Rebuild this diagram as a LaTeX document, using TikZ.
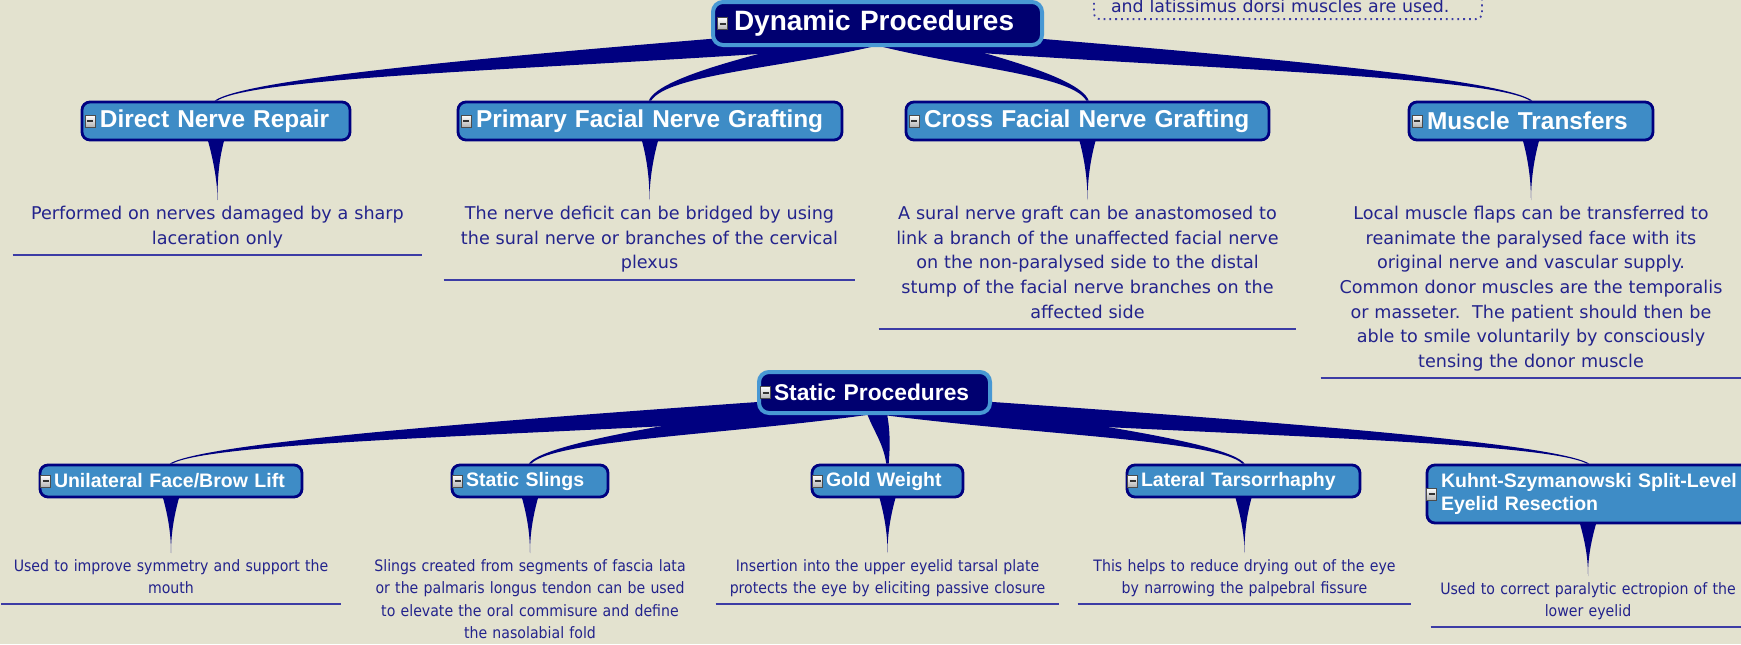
\documentclass[tikz,border=0pt]{standalone}
\usepackage{fontspec}
\setmainfont{DejaVu Sans}
\newfontfamily\titlefont{Liberation Sans}
\newfontfamily\notefont{DejaVu Sans}
\newfontfamily\narrowfont{DejaVu Sans}[FakeStretch=0.9]
\usetikzlibrary{calc}
\pgfdeclarelayer{bg}
\pgfsetlayers{bg,main}

\definecolor{paper}{RGB}{227,226,207}
\definecolor{navy}{RGB}{0,0,128}
\definecolor{rootfill}{RGB}{0,0,112}
\definecolor{rootedge}{RGB}{72,152,212}
\definecolor{boxblue}{RGB}{62,140,198}
\definecolor{desctext}{RGB}{35,35,140}
\definecolor{ruleblue}{RGB}{60,60,165}

\tikzset{
    rootbox/.style={draw=rootedge, fill=rootfill, line width=2pt, rounded corners=5pt,
        text=white, inner sep=0pt, align=left},
    dynroot/.style={rootbox, minimum height=21.5pt,
        font=\titlefont\bfseries\fontsize{14pt}{16pt}\selectfont,
        execute at begin node={\leftskip=10.5pt}},
    statroot/.style={rootbox, minimum height=20.5pt,
        font=\titlefont\bfseries\fontsize{11.4pt}{13pt}\selectfont,
        execute at begin node={\leftskip=7.5pt}},
    childbox/.style={draw=navy, fill=boxblue, line width=1.4pt, rounded corners=4pt,
        text=white, inner sep=0pt, align=left},
    dynbox/.style={childbox, minimum height=19pt,
        font=\titlefont\bfseries\fontsize{12.2pt}{14pt}\selectfont,
        execute at begin node={\leftskip=9pt}},
    statbox/.style={childbox, minimum height=16pt,
        font=\titlefont\bfseries\fontsize{9.75pt}{11.5pt}\selectfont,
        execute at begin node={\leftskip=7pt}},
    dyndesc/.style={anchor=north, align=center, text=desctext, inner xsep=0pt, inner ysep=3pt,
        font=\notefont\fontsize{8.8pt}{12.3pt}\selectfont,
        execute at end node={\vrule width 0pt depth 2.2pt height 0pt}},
    statdesc/.style={anchor=north, align=center, text=desctext, inner xsep=0pt, inner ysep=3pt,
        font=\narrowfont\fontsize{7.85pt}{11.25pt}\selectfont,
        execute at end node={\vrule width 0pt depth 2pt height 0pt}},
    notebox/.style={draw=ruleblue, dotted, line width=0.9pt, rounded corners=3pt, align=left,
        text=desctext, inner xsep=8.5pt, inner ysep=3pt, text width=177pt,
        font=\notefont\fontsize{8.7pt}{12pt}\selectfont},
    branch/.style={fill=navy},
    descrule/.style={draw=ruleblue, line width=1pt},
    icon/.style={draw=black!70, line width=0.4pt, top color=white, bottom color=black!30},
    iconbar/.style={draw=black!80, line width=1pt}
}

% tapered curved branch from a parent box to a child box
\newcommand{\branch}[2]{%
    \path let \p1=($(#1.center)!0.5!(#1.south)$), \p2=(#2.north) in
        coordinate (bs) at (\p1)
        coordinate (bc) at ({\x1+0.42*(\x2-\x1)},{\y1+0.35*(\y2-\y1)})
        coordinate (bd) at ({\x2+0.06*(\x1-\x2)},{\y2-0.4*(\y2-\y1)})
        coordinate (bt) at (\p2);
    \path coordinate (bo) at ($(bs)!5pt!90:(bc)$);
    \fill[branch] (bo) .. controls ($(bc)+(bo)-(bs)$) and ([xshift=2pt]bd) .. ([xshift=0.6pt]bt)
        -- ([xshift=-0.6pt]bt) .. controls ([xshift=-2pt]bd) and ($(bc)-(bo)+(bs)$) .. ($2*(bs)-(bo)$) -- cycle;
}
% pointed callout tail from a box down to its note
\newcommand{\tail}[2]{%
    \fill[branch] ([xshift=-4.5pt,yshift=2pt]#1.south)
        .. controls ([xshift=-1pt,yshift=-10pt]#1.south) and ([yshift=8pt]#2.north) .. (#2.north)
        .. controls ([yshift=8pt]#2.north) and ([xshift=1pt,yshift=-10pt]#1.south) .. ([xshift=4.5pt,yshift=2pt]#1.south)
        -- cycle;
}

\begin{document}
\begin{tikzpicture}[x=0.5pt,y=-0.5pt]
    \useasboundingbox (0,0) rectangle (1741,644);
    \begin{pgfonlayer}{bg}
        \fill[paper] (0,0) rectangle (1741,644);
    \end{pgfonlayer}
    \clip (0,0) rectangle (1741,644);

    % note box cut off at the top
    \node[notebox, anchor=south] (note) at (1288,20) {and latissimus dorsi muscles are used.};

    % the two main topics
    \node[dynroot, text width=164.5pt] (dyn) at (877.5,23.5) {Dynamic Procedures};
    \node[statroot, text width=115.5pt] (stat) at (874.5,392.5) {Static Procedures};

    % subtopics
    \foreach \i/\x/\w/\t in {1/216/134pt/Direct Nerve Repair,
                             2/650/192pt/Primary Facial Nerve Grafting,
                             3/1087.5/181.5pt/Cross Facial Nerve Grafting,
                             4/1531/122pt/Muscle Transfers} {
        \node[dynbox, text width=\w] (d_\i) at (\x,121) {\t};
    }
    \foreach \i/\x/\w/\t in {1/171/131pt/{Unilateral Face/Brow Lift},
                             2/530/78pt/Static Slings,
                             3/887.5/75.5pt/Gold Weight,
                             4/1243.5/116.5pt/Lateral Tarsorrhaphy} {
        \node[statbox, text width=\w] (s_\i) at (\x,481) {\t};
    }
    \node[statbox, text width=161pt, minimum height=29pt] (s_5) at (1588,494) {Kuhnt-Szymanowski Split-Level\\Eyelid Resection};

    % notes
    \node[dyndesc, text width=204.5pt] (dn_1) at (217.5,200) {Performed on nerves damaged by a sharp\\laceration only};
    \node[dyndesc, text width=205.5pt] (dn_2) at (649.5,200) {The nerve deficit can be bridged by using\\the sural nerve or branches of the cervical\\plexus};
    \node[dyndesc, text width=208.5pt] (dn_3) at (1087.5,200) {A sural nerve graft can be anastomosed to\\link a branch of the unaffected facial nerve\\on the non-paralysed side to the distal\\stump of the facial nerve branches on the\\affected side};
    \node[dyndesc, text width=210pt] (dn_4) at (1531,200) {Local muscle flaps can be transferred to\\reanimate the paralysed face with its\\original nerve and vascular supply.\\Common donor muscles are the temporalis\\or masseter.\ \ The patient should then be\\able to smile voluntarily by consciously\\tensing the donor muscle};

    \node[statdesc, text width=169.5pt] (sn_1) at (171,553) {Used to improve symmetry and support the\\mouth};
    \node[statdesc, text width=170pt] (sn_2) at (530,553) {Slings created from segments of fascia lata\\or the palmaris longus tendon can be used\\to elevate the oral commisure and define\\the nasolabial fold};
    \node[statdesc, text width=171.5pt] (sn_3) at (887.5,553) {Insertion into the upper eyelid tarsal plate\\protects the eye by eliciting passive closure};
    \node[statdesc, text width=166.5pt] (sn_4) at (1244.5,553) {This helps to reduce drying out of the eye\\by narrowing the palpebral fissure};
    \node[statdesc, text width=157pt] (sn_5) at (1588,576) {Used to correct paralytic ectropion of the\\lower eyelid};

    \foreach \i in {1,...,4} {
        \draw[descrule] (dn_\i.south west) -- (dn_\i.south east);
    }
    \foreach \i in {1,...,5} {
        \draw[descrule] (sn_\i.south west) -- (sn_\i.south east);
    }

    % collapse icons
    \foreach \n/\o in {dyn/5.75pt, stat/4.25pt, d_1/4.75pt, d_2/4.75pt, d_3/4.75pt, d_4/4.75pt,
                       s_1/3.5pt, s_2/3.5pt, s_3/3.5pt, s_4/3.5pt, s_5/3pt} {
        \path ([xshift=\o]\n.west) coordinate (ic);
        \draw[icon] ($(ic)+(-2.5pt,-3pt)$) rectangle ($(ic)+(2.5pt,3pt)$);
        \draw[iconbar] ($(ic)+(-1.5pt,0)$) -- ($(ic)+(1.5pt,0)$);
    }

    % branches and tails behind the boxes
    \begin{pgfonlayer}{bg}
        \foreach \i in {1,...,4} {
            \branch{dyn}{d_\i}
            \tail{d_\i}{dn_\i}
        }
        \foreach \i in {1,...,5} {
            \branch{stat}{s_\i}
            \tail{s_\i}{sn_\i}
        }
    \end{pgfonlayer}
\end{tikzpicture}
\end{document}
